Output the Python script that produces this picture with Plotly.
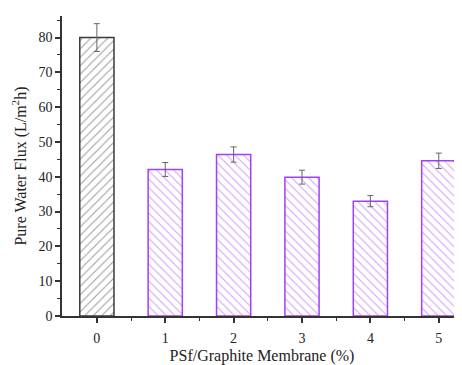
import plotly.graph_objects as go

categories = [0, 1, 2, 3, 4, 5]
flux = [80.0, 42.1, 46.4, 39.9, 33.0, 44.6]
flux_err = [4.0, 2.0, 2.2, 2.0, 1.6, 2.2]
y_ticks = [0, 10, 20, 30, 40, 50, 60, 70, 80]

dark = "#3a3a3a"
purple = "#a040f8"
colors = [dark] + [purple] * 5
shapes = ["/"] + ["\\"] * 5

fig = go.Figure()
fig.add_trace(go.Bar(
    x=categories, y=flux, width=0.5,
    marker=dict(
        color="white",
        line=dict(color=colors, width=1.5),
        pattern=dict(shape=shapes, fgcolor=colors, bgcolor="white",
                     size=6, solidity=0.17, fillmode="overlay"),
    ),
    error_y=dict(type="data", array=flux_err, visible=True,
                 color="#666666", thickness=1, width=3),
    showlegend=False,
))

font = "Liberation Serif, DejaVu Serif, serif"
# page body has an 8px margin, so the figure is drawn 8px in from the corner
fig.update_layout(
    width=454, height=357,
    margin=dict(l=54, r=0, t=8, b=49),
    plot_bgcolor="white", paper_bgcolor="white",
    font=dict(family=font, size=14, color="#222222"),
)
fig.update_xaxes(
    range=[-0.51, 5.34], tickmode="array", tickvals=categories,
    ticktext=[str(c) for c in categories],
    showline=True, linecolor="#333333", linewidth=1.5,
    ticks="outside", ticklen=5, tickwidth=1.5, tickcolor="#333333",
    ticklabelstandoff=3, automargin=False,
    minor=dict(ticks="outside", tickvals=[0.5, 1.5, 2.5, 3.5, 4.5], ticklen=3, tickwidth=1.2, tickcolor="#333333"),
    showgrid=False, zeroline=False,
    title=dict(text="PSf/Graphite Membrane (%)", font=dict(family=font, size=16), standoff=12),
    tickfont=dict(family=font, size=14),
)
fig.update_yaxes(
    range=[0, 86.2], tickmode="array", tickvals=y_ticks,
    showline=True, linecolor="#333333", linewidth=1.5,
    ticks="outside", ticklen=5, tickwidth=1.5, tickcolor="#333333",
    minor=dict(ticks="outside", dtick=5, ticklen=3, tickwidth=1.2, tickcolor="#333333"),
    showgrid=False, zeroline=False,
    title=dict(text="Pure Water Flux (L/m<sup>2</sup>h)", font=dict(family=font, size=16), standoff=8),
    tickfont=dict(family=font, size=14),
)

fig.write_html("out.html")
